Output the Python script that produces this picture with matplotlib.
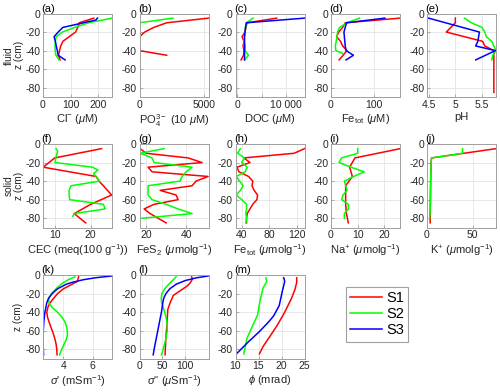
import matplotlib
matplotlib.use('Agg')
import matplotlib.pyplot as plt
from matplotlib.lines import Line2D

plt.rcParams.update({
    'font.family': ['Liberation Sans', 'DejaVu Sans'],
    'axes.unicode_minus': False,
    'mathtext.fontset': 'custom',
    'mathtext.rm': 'Liberation Sans',
    'mathtext.it': 'Liberation Sans:italic',
    'mathtext.bf': 'Liberation Sans:bold',
})

# ---------------- data ----------------
series_names = ['S1', 'S2', 'S3']
colors = ['#ff0000', '#00ff00', '#0000ff']

# (a) Cl-
a_z1 = [-5, -10, -15, -20, -25, -30, -35, -40, -45, -50]
a_x1 = [184, 131, 126, 118, 95, 72, 64, 60, 56, 62]
a_z2 = [-5, -10, -15, -20, -25, -30, -35, -40, -45, -50]
a_x2 = [250, 165, 115, 70, 48, 44, 44, 44, 47, 58]
a_z3 = [-5, -7, -15, -20, -25, -30, -35, -40, -45, -50]
a_x3 = [197, 192, 72, 55, 40, 45, 48, 52, 55, 80]

# (b) PO4
b_z1 = [-5, -10, -15, -20, -25, -30, -35, -40, -45]
b_x1 = [5330, 2100, 1100, 400, 0, 0, 0, 0, 2100]
b_z2 = [-5, -10, -15, -20, -25, -30, -35, -40, -45, -50]
b_x2 = [2580, 0, 0, 0, 0, 0, 0, 0, 0, 0]

# (c) DOC
c_z1 = [-5, -10, -15, -20, -25, -30, -35, -40, -45, -50]
c_x1 = [8100, 2000, 1800, 1600, 1000, 1400, 1200, 1400, 1300, 800]
c_z2 = [-5, -10, -15, -20, -25, -30, -35, -40, -45, -50]
c_x2 = [3250, 1900, 1700, 1600, 1500, 1400, 1500, 1600, 2300, 1500]
c_z3 = [-5, -10, -15, -20, -25, -30, -35, -40, -45, -50]
c_x3 = [13800, 1860, 1700, 1600, 1500, 1500, 1550, 1500, 1500, 1500]

# (d) Fe_tot fluid
d_z1 = [-5, -10, -15, -20, -25, -30, -35, -40, -45, -50]
d_x1 = [160, 33, 27, 18, 13, 22, 27, 37, 28, 19]
d_z2 = [-5, -10, -15, -20, -25, -30, -35, -40, -43]
d_x2 = [66, 37, 20, 15, 14, 12, 10, 11, 27]
d_z3 = [-5, -10, -15, -20, -25, -30, -35, -40, -45, -50]
d_x3 = [125, 36, 33, 30, 31, 32, 33, 35, 52, 35]

# (e) pH
e_z1 = [-5, -10, -20, -30, -35, -40, -85]
e_x1 = [5.0, 5.0, 4.83, 5.51, 5.55, 5.72, 5.72]
e_z2 = [-5, -10, -15, -20, -25, -30, -35, -40, -45, -50]
e_x2 = [5.17, 5.3, 5.5, 5.55, 5.58, 5.68, 5.72, 5.76, 5.7, 5.68]
e_z3 = [-5, -20, -30, -35, -40, -50]
e_x3 = [4.5, 5.45, 5.42, 5.38, 5.75, 5.38]

# (f) CEC
f_z1 = [-5, -15, -25, -35, -40, -45, -55, -65, -75, -85]
f_x1 = [23, 10, 6.8, 21.5, 22.3, 23.5, 25.8, 20, 15.4, 18.6]
f_z2 = [-5, -8, -15, -20, -25, -28, -32, -40, -45, -50, -55, -60, -65, -70, -75, -78]
f_x2 = [10.4, 10.8, 10.3, 10.1, 20.5, 22, 20.8, 22.5, 14.5, 14, 14, 14.2, 23.5, 24, 15.4, 15]

# (g) FeS2
g_z1 = [-5, -10, -15, -20, -25, -30, -35, -40, -45, -50, -55, -60, -65, -70, -75, -80, -85]
g_x1 = [17, 20, 41, 48, 21, 23, 51, 45, 43, 27, 35, 36, 24, 19, 22, 26, 30]
g_z2 = [-5, -10, -15, -20, -25, -30, -35, -40, -45, -50, -55, -60, -65, -70, -75, -80]
g_x2 = [29, 17, 23, 24, 43, 40, 38, 37, 21, 21, 21, 23, 30, 36, 43, 18]

# (h) Fe_tot solid
h_z1 = [-5, -10, -15, -20, -25, -30, -35, -40, -45, -50, -55, -60, -65, -70, -75, -80, -85]
h_x1 = [131, 116, 43, 52, 33, 36, 50, 56, 55, 58, 63, 62, 56, 52, 48, 47, 47]
h_z2 = [-5, -10, -15, -20, -25, -30, -35, -40, -45, -50, -55, -60, -65, -70, -75, -80, -85]
h_x2 = [38, 34, 44, 40, 48, 45, 32, 37, 42, 38, 32, 40, 47, 47, 46, 47, 46]

# (i) Na+
i_z1 = [-5, -15, -25, -35, -45, -55, -65, -75, -85]
i_x1 = [26, 9, 7, 8, 5.5, 5.5, 5.5, 5.8, 6.5]
i_z2 = [-5, -10, -15, -20, -25, -30, -35, -40, -45, -50, -55, -60, -65, -70, -75, -80]
i_x2 = [10, 10, 4, 3, 7.5, 12.5, 8.5, 5, 5.5, 6, 4.5, 4, 6.5, 6.5, 5, 5]

# (j) K+
j_z1 = [-5, -15, -20, -30, -40, -50, -60, -70, -80, -85]
j_x1 = [76, 5, 4.5, 4.2, 4, 3.8, 3.7, 3.6, 3.5, 3.5]
j_z2 = [-5, -10, -15, -20, -30, -40, -50, -60, -70, -80]
j_x2 = [39, 39, 5, 4.5, 4.3, 4.1, 4, 3.8, 3.5, 3]

# (k) sigma'
k_z1 = [-2, -5, -7, -10, -15, -20, -25, -30, -35, -40, -45, -50, -55, -60, -65, -70, -75, -80, -86]
k_x1 = [5.05, 5.0, 4.95, 4.6, 4.0, 3.62, 3.35, 3.1, 2.95, 2.88, 2.92, 3.02, 3.13, 3.25, 3.36, 3.45, 3.52, 3.56, 3.58]
k_z2 = [-2, -5, -10, -15, -20, -25, -30, -35, -40, -45, -50, -55, -60, -65, -70, -75, -80, -86]
k_x2 = [4.8, 4.35, 3.85, 3.5, 3.2, 3.02, 3.02, 3.25, 3.6, 3.9, 4.1, 4.22, 4.28, 4.28, 4.2, 4.05, 3.9, 3.75]
k_z3 = [-1, -3, -5, -8, -10, -15, -20, -25, -30, -40, -50, -60, -70, -80, -86]
k_x3 = [7.33, 6.2, 5.4, 4.6, 4.2, 3.6, 3.25, 3.0, 2.88, 2.75, 2.68, 2.64, 2.63, 2.64, 2.66]

# (l) sigma''
l_z1 = [-2, -4, -6, -9, -12, -17, -22, -30, -37, -45, -55, -65, -75, -86]
l_x1 = [114, 116, 114, 110, 104, 89, 74, 67, 62, 61, 60, 58, 57, 56]
l_z2 = [-2, -5, -10, -15, -20, -25, -30, -35, -40, -50, -60, -70, -80, -86]
l_x2 = [80, 74, 64, 55, 49, 47.5, 48.5, 52, 55, 60, 61, 57, 52, 48]
l_z3 = [-1, -3, -6, -10, -15, -20, -25, -30, -40, -50, -60, -70, -80, -86]
l_x3 = [151, 125, 100, 80, 66, 58, 53, 51, 48, 44, 40, 36, 32, 30]

# (m) phi
m_z1 = [-3, -8, -16, -26, -41, -54, -66, -77, -85]
m_x1 = [23.3, 23.3, 22.9, 22.1, 20.6, 19.1, 17.5, 16.0, 15.2]
m_z2 = [-3, -7, -14, -26, -43, -55, -68, -85]
m_x2 = [16.6, 16.8, 16.0, 15.4, 14.8, 13.7, 12.5, 11.8]
m_z3 = [-3, -7, -17, -33, -44, -50, -61, -72, -85]
m_x3 = [20.5, 20.7, 20.2, 19.5, 18.3, 17.3, 15.2, 12.8, 10.2]

row_names = ['fluid', 'solid', None]
z_label = 'z (cm)'

# ---------------- layout ----------------
W, H = 500, 392
fig = plt.figure(figsize=(W / 100, H / 100), dpi=100)

col_left = [43, 139.5, 235.5, 331, 427]
aw = 69
row_top = [13.5, 144, 275]
ah = 83.5

grey = '#a0a0a0'
txt = '#262626'
FS = 7.5
LFS = 8.0
YFS = 7.3


def make_ax(r, c):
    l = col_left[c]
    t = row_top[r]
    ax = fig.add_axes([l / W, 1 - (t + ah) / H, aw / W, ah / H])
    ax.set_ylim(-90, 0)
    ax.set_yticks([-80, -60, -40, -20, 0])
    ax.grid(True, color='#e4e4e4', lw=0.6)
    ax.set_axisbelow(True)
    for s in ax.spines.values():
        s.set_color(grey)
        s.set_linewidth(0.7)
    ax.tick_params(direction='in', length=2, width=0.6, color=grey,
                   labelcolor=txt, labelsize=FS, pad=2)
    return ax


panels = [
    (0, 0, '(a)', [(a_z1, a_x1), (a_z2, a_x2), (a_z3, a_x3)], (0, 250), [0, 100, 200], None,
     r'Cl$^{-}$ ($\mu$M)'),
    (0, 1, '(b)', [(b_z1, b_x1), (b_z2, b_x2), None], (0, 5330), [0, 5000], None,
     r'PO$_4^{3-}$ (10 $\mu$M)'),
    (0, 2, '(c)', [(c_z1, c_x1), (c_z2, c_x2), (c_z3, c_x3)], (-350, 13800), [0, 5000, 10000],
     ['0', '', '10 000'], r'DOC ($\mu$M)'),
    (0, 3, '(d)', [(d_z1, d_x1), (d_z2, d_x2), (d_z3, d_x3)], (0, 160), [0, 100], None,
     r'Fe$_{\rm tot}$ ($\mu$M)'),
    (0, 4, '(e)', [(e_z1, e_x1), (e_z2, e_x2), (e_z3, e_x3)], (4.47, 5.76), [4.5, 5, 5.5],
     ['4.5', '5', '5.5'], 'pH'),
    (1, 0, '(f)', [(f_z1, f_x1), (f_z2, f_x2), None], (6.75, 25.9), [10, 20], None,
     r'CEC (meq(100 g$^{-1}$))'),
    (1, 1, '(g)', [(g_z1, g_x1), (g_z2, g_x2), None], (16.7, 51.2), [20, 40], None,
     r'FeS$_2$ ($\mu$molg$^{-1}$)'),
    (1, 2, '(h)', [(h_z1, h_x1), (h_z2, h_x2), None], (31, 131), [40, 80, 120], None,
     r'Fe$_{\rm tot}$ ($\mu$molg$^{-1}$)'),
    (1, 3, '(i)', [(i_z1, i_x1), (i_z2, i_x2), None], (0, 25.9), [0, 10, 20], None,
     r'Na$^{+}$ ($\mu$molg$^{-1}$)'),
    (1, 4, '(j)', [(j_z1, j_x1), (j_z2, j_x2), None], (0, 75.8), [0, 50], None,
     r'K$^{+}$ ($\mu$molg$^{-1}$)'),
    (2, 0, '(k)', [(k_z1, k_x1), (k_z2, k_x2), (k_z3, k_x3)], (2.62, 7.33), [4, 6], None,
     r"$\sigma$' (mSm$^{-1}$)"),
    (2, 1, '(l)', [(l_z1, l_x1), (l_z2, l_x2), (l_z3, l_x3)], (0, 151), [0, 50, 100], None,
     r"$\sigma$'' ($\mu$Sm$^{-1}$)"),
    (2, 2, '(m)', [(m_z1, m_x1), (m_z2, m_x2), (m_z3, m_x3)], (10, 25), [10, 15, 20, 25], None,
     r'$\phi$ (mrad)'),
]

for r, c, letter, series, xlim, xt, xtl, xlabel in panels:
    ax = make_ax(r, c)
    for k, s in enumerate(series):
        if s is None:
            continue
        z, x = s
        ax.plot(x, z, color=colors[k], lw=1.1)
    ax.set_xlim(*xlim)
    ax.set_xticks(xt)
    if xtl is not None:
        ax.set_xticklabels(xtl)
    ax.set_xlabel(xlabel, fontsize=LFS, color=txt, labelpad=1.5)
    ax.text(-0.02, 1.0, letter, transform=ax.transAxes, ha='left', va='bottom',
            fontsize=LFS, color='black')

# row labels (left side)
for r in range(3):
    yc = 1 - (row_top[r] + ah / 2) / H
    if row_names[r] is not None:
        fig.text(8.5 / W, yc, row_names[r], rotation=90, ha='center', va='center',
                 fontsize=YFS, color=txt)
        fig.text(18.5 / W, yc, z_label, rotation=90, ha='center', va='center',
                 fontsize=YFS, color=txt)
    else:
        fig.text(18 / W, yc, z_label, rotation=90, ha='center', va='center',
                 fontsize=YFS, color=txt)

handles = [Line2D([], [], color=col, lw=1.1) for col in colors]
leg = fig.legend(handles, series_names, loc='upper left',
                 bbox_to_anchor=(346 / W, 1 - 286.5 / H), fontsize=10.5,
                 frameon=True, fancybox=False, edgecolor=grey, framealpha=1,
                 handlelength=2.2, handletextpad=0.25, borderpad=0.3,
                 labelspacing=0.15, borderaxespad=0)
leg.get_frame().set_linewidth(0.8)

fig.savefig('out.png', dpi=100)
